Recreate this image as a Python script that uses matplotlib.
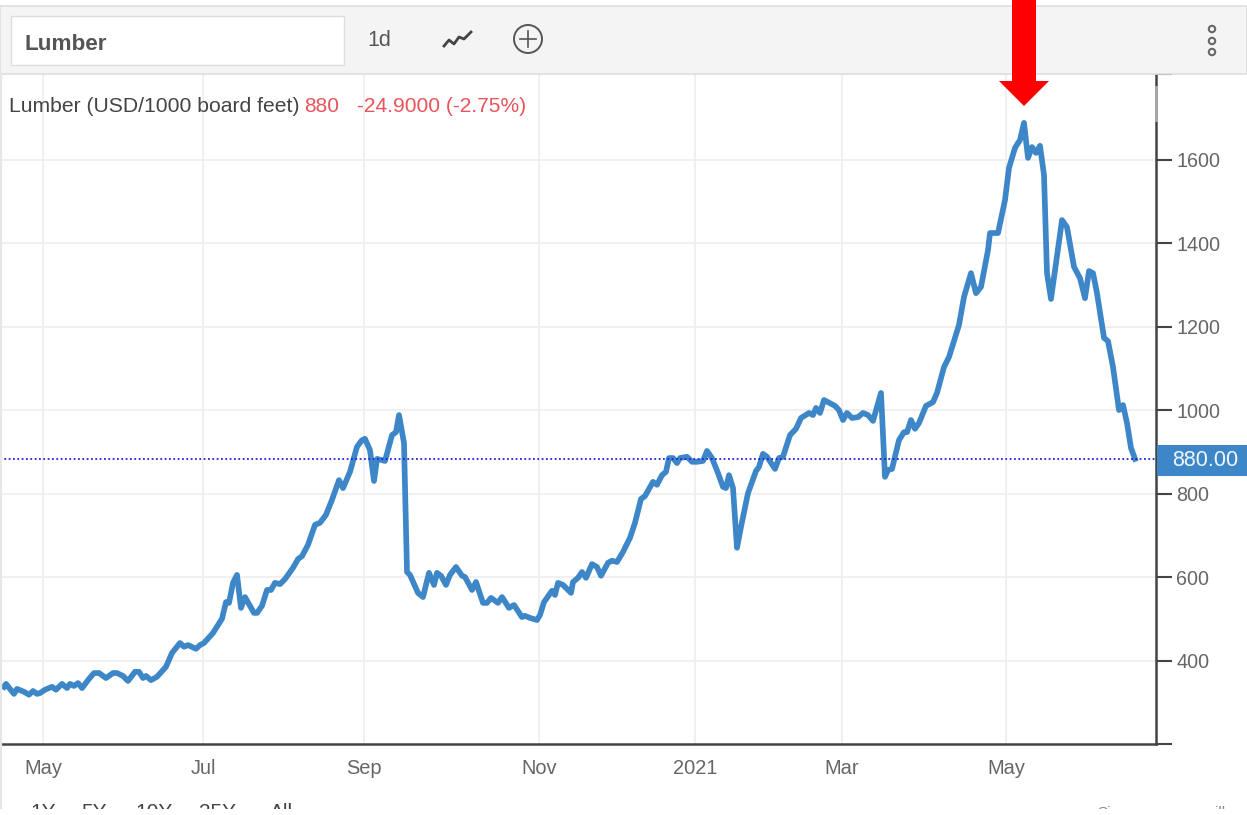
import matplotlib
matplotlib.use("Agg")
import matplotlib.pyplot as plt
from matplotlib.patches import Rectangle, Circle, Polygon

plt.rcParams['font.family'] = ['Liberation Sans', 'DejaVu Sans']

# Series: session offset from the first May tick, and price
sessions = [-9.75,-9.25,-7.25,-6.5,-4.75,-3.5,-2.5,-1.5,-0.75,0.5,2.25,3.25,4.75,6,6.75,7.75,8.75,9.75,11.5,12.75,14,15.75,17.5,18.5,20,21.25,23,24,25,25.75,27,28.5,30.75,32.25,34.25,35.25,36.25,38.25,39.25,40.25,42.5,44.75,45.75,46.5,47.5,48.5,49.5,50.5,52.75,53.5,54.75,56,57,58,59.25,60.5,62.5,63.75,64.75,66.25,68,69.25,70.75,72.25,74,75,76.75,78.5,79.75,80.5,81.75,82.75,83.5,85.5,87.25,88.25,89,90.25,91,91.75,93.75,95,96.5,97.75,98.5,99.5,100.75,101.75,103.25,104.75,105.5,107.25,108.25,110,111,112,113.75,114.75,116.5,117.75,119.75,120.5,121.75,123.5,124.25,125.25,127.25,128,128.75,130,132,132.5,133.75,134.75,135.75,137.25,138.5,139.5,141.25,142.25,143.5,145,146.75,148,149.5,150.5,152.5,153.5,154.75,155.75,156.5,157.5,158.5,159.25,161,162.25,163.5,165,166,167.25,168.75,170,170.75,171.5,172.5,173.5,174.5,176.25,178.25,179,180,181,183,184,185,186.75,188.25,189.5,191.5,192.5,193.25,194.25,195.25,198,199,200,201,202.25,203.75,205,206.25,207.5,209.5,210.5,211.25,212.25,214,215.25,216,217,218,219,220.75,222.5,223.5,225.25,226.5,229,230.25,232,233.25,234.5,236.25,236.75,238.75,240.5,241.5,243,244.25,245.25,246.25,247.25,248.25,249.25,250.25,251,252,254.75,256,257.75,259.25,260.5,261.5,262.5,263.5,265.25,266.25,267.5,269,270,271,272,273]
prices = [338,345,321,333,326,319,328,321,323,331,338,331,345,335,345,340,347,335,357,371,371,359,371,371,364,352,374,374,359,364,354,362,386,419,443,434,438,429,438,443,467,501,541,539,587,606,527,553,515,515,532,570,570,587,584,596,623,644,651,678,726,731,750,786,833,814,853,913,929,932,905,831,884,879,941,948,989,922,613,606,563,553,611,582,611,604,582,606,625,604,601,570,589,539,539,551,539,553,527,534,505,508,503,498,510,541,568,558,587,582,563,589,599,613,599,632,625,604,635,640,637,661,695,731,788,795,829,822,845,853,886,886,874,886,889,877,877,879,903,886,850,817,814,845,814,671,721,802,855,865,896,889,860,886,889,941,956,982,994,989,1006,994,1025,1011,1001,977,994,982,984,994,989,975,1042,841,857,860,929,948,948,977,956,970,1011,1020,1042,1104,1128,1205,1272,1329,1281,1296,1384,1425,1425,1504,1581,1629,1648,1689,1605,1631,1617,1634,1564,1329,1267,1456,1439,1344,1317,1269,1334,1329,1281,1174,1166,1104,1001,1013,970,910,884]
month_labels = ['May', 'Jul', 'Sep', 'Nov', '2021', 'Mar', 'May']
month_sessions = [0, 40, 80.25, 124, 163, 199.75, 240.75]
y_ticks = [400, 600, 800, 1000, 1200, 1400, 1600]
last_price_level = 884

W, H = 1247, 815
fig = plt.figure(figsize=(W / 100, H / 100), dpi=100, facecolor='white')

# Main chart panel
ax = fig.add_axes([0, 1 - 744 / H, 1156 / W, (744 - 74) / H])
ax.set_xlim(-10.75, 278.25)
ax.set_ylim(201, 1806)
ax.grid(True, color='#eeeeee', lw=1.2)
ax.set_axisbelow(True)
ax.plot(sessions, prices, color='#3d87c9', lw=4.1, solid_joinstyle='round', zorder=3)
ax.axhline(last_price_level, color='#2222dd', lw=1.3, ls=(0, (1, 1.4)), zorder=4)

for s in ['top', 'left']:
    ax.spines[s].set_visible(False)
for s in ['right', 'bottom']:
    ax.spines[s].set_color('#444444')
    ax.spines[s].set_linewidth(1.8)
ax.set_xticks(month_sessions, month_labels)
ax.tick_params(axis='x', length=0, pad=11, labelsize=14.4, labelcolor='#666666')
ax.yaxis.tick_right()
ax.set_yticks(y_ticks, [str(v) for v in y_ticks])
ax.set_yticks([201, 1806], minor=True)
ax.tick_params(axis='y', which='major', length=11.5, width=1.5, color='#444444', pad=3,
               labelsize=14.2, labelcolor='#666666')
ax.tick_params(axis='y', which='minor', length=11.5, width=1.5, color='#444444')

# Overlay in figure pixels for the widget chrome
ov = fig.add_axes([0, 0, 1, 1], zorder=5)
ov.set_xlim(0, W)
ov.set_ylim(H, 0)
ov.axis('off')
ov.patch.set_alpha(0)

ov.add_patch(Rectangle((0, 6), W, 68, fc='#f4f4f4', ec='#dedede', lw=1.2))
ov.add_patch(Rectangle((11, 16), 333, 49, fc='white', ec='#dddddd', lw=1))
ov.text(24, 44, 'Lumber', fontsize=16.2, fontweight='bold', color='#555555', va='center')
ov.text(367, 41, '1d', fontsize=15.5, color='#555555', va='center')
ov.plot([444, 449, 454, 459, 464, 471], [46, 40, 44, 37, 39, 32], color='#444444', lw=2,
        solid_joinstyle='round')
ov.add_patch(Circle((528, 39), 14, fc='none', ec='#555555', lw=1.4))
ov.plot([520, 536], [39, 39], color='#555555', lw=1.2)
ov.plot([528, 528], [31, 47], color='#555555', lw=1.2)
for cy in (29, 41, 52):
    ov.add_patch(Circle((1212, cy), 3.2, fc='none', ec='#666666', lw=1.5))

# Left edge of the widget and fading top of the price axis
ov.plot([1, 1], [74, 808], color='#e6e6e6', lw=1.6)
ov.plot([1156, 1156], [87, 120], color='#aaaaaa', lw=2, zorder=3)

# Header line
ov.text(9, 106.5, 'Lumber (USD/1000 board feet)', fontsize=15.2, color='#444444', va='center')
ov.text(304, 106.5, '880', fontsize=15, color='#e8545a', va='center')
ov.text(357, 106.5, '-24.9000 (-2.75%)', fontsize=15.1, color='#e8545a', va='center')

# Last price tag
ov.add_patch(Rectangle((1157, 445), 90, 31, fc='#3d87c9', ec='none'))
ov.text(1205, 461, '880.00', fontsize=15.5, color='#f2f7fb', va='center', ha='center')

# Red arrow
ov.add_patch(Polygon([(1012, 0), (1036, 0), (1036, 81), (1049, 81), (1024, 106), (999, 81), (1012, 81)],
                     closed=True, fc='#fe0000', ec='none', zorder=6))

# Range selector, cut off by the bottom of the capture
for x, s in [(30, '1Y'), (81, '5Y'), (135, '10Y'), (199, '25Y'), (270, 'All')]:
    ov.text(x, 813, s, fontsize=15, color='#444444', va='center')
ov.text(1097, 813, 'Si', fontsize=11, color='#888888', va='center')
ov.text(1215, 813, 'ill', fontsize=11, color='#888888', va='center')
ov.add_patch(Rectangle((0, 809), W, 6, fc='white', ec='none', zorder=7))

fig.savefig('out.png', dpi=100)
